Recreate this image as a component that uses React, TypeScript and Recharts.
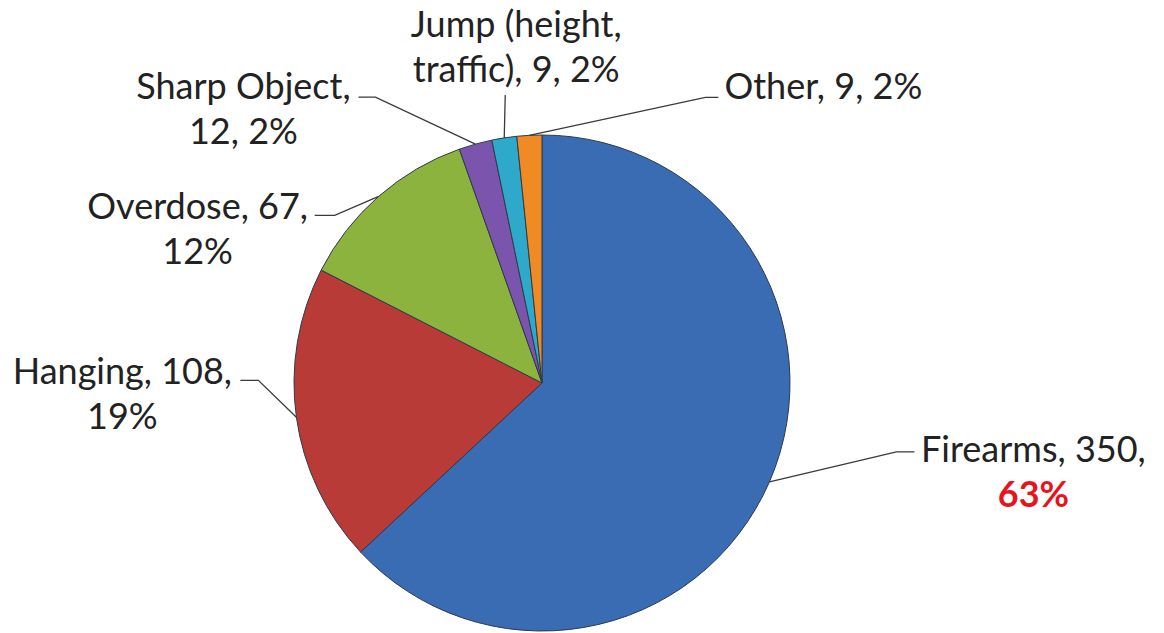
import { Cell, Pie, PieChart } from "recharts"

const categories = [
  "Firearms",
  "Hanging",
  "Overdose",
  "Sharp Object",
  "Jump (height, traffic)",
  "Other",
]
const counts = [350, 108, 67, 12, 9, 9]
const colors = ["#3a6cb3", "#b83b37", "#8db33f", "#7b55ad", "#2ea9c9", "#f08a24"]

// label placement, relative to the point where the leader meets the slice edge
const labelLayout = [
  { elbow: [127, -30], end: [145, -30], text: [264, -20], split: 2 },
  { elbow: [-38, -37], end: [-56, -37], text: [-174, -33], split: 2 },
  { elbow: [-44, 19], end: [-64, 19], text: [-181, 23], split: 2 },
  { elbow: [-100, -47], end: [-117, -47], text: [-232, -45], split: 2 },
  { elbow: [1, -43], end: [1, -43], text: [12, -101], split: 2 },
  { elbow: [176, -38], end: [189, -38], text: [294, -36], split: 99 },
]

const data = categories.map((name, i) => ({ name, value: counts[i] }))

const RADIAN = Math.PI / 180
const LINE_GAP = 45
const FONT = 36

function renderLabel(props: any) {
  const { cx, cy, midAngle, outerRadius, index, name, value, percent } = props
  const ax = cx + outerRadius * Math.cos(-midAngle * RADIAN)
  const ay = cy + outerRadius * Math.sin(-midAngle * RADIAN)
  const lay = labelLayout[index]
  const pct = `${Math.round(percent * 100)}%`
  const words = `${name}, ${value}, ${pct}`.split(" ")
  const line1 = words.slice(0, lay.split).join(" ")
  const line2 = words.slice(lay.split).join(" ")
  const tx = ax + lay.text[0]
  const ty = ay + lay.text[1]
  const highlight = index === 0
  return (
    <g>
      <polyline
        points={`${ax},${ay} ${ax + lay.elbow[0]},${ay + lay.elbow[1]} ${ax + lay.end[0]},${ay + lay.end[1]}`}
        fill="none"
        stroke="#3a3a3a"
        strokeWidth={1.3}
      />
      <text x={tx} y={ty} textAnchor="middle" fill="#222" fontSize={FONT} fontFamily="Lato">
        {line1}
      </text>
      {line2 && (
        <text
          x={tx}
          y={ty + LINE_GAP}
          textAnchor="middle"
          fill={highlight ? "#e8141c" : "#222"}
          fontWeight={highlight ? 700 : 400}
          fontSize={FONT}
          fontFamily="Lato"
        >
          {line2}
        </text>
      )}
    </g>
  )
}

export default function App() {
  return (
    <div style={{ position: "absolute", left: 0, top: 0, background: "#fff" }}>
      <PieChart width={1164} height={633} margin={{ top: 0, right: 0, bottom: 0, left: 0 }}>
        <Pie
          data={data}
          dataKey="value"
          nameKey="name"
          cx={542}
          cy={383}
          outerRadius={248}
          startAngle={90}
          endAngle={-270}
          label={renderLabel}
          labelLine={false}
          isAnimationActive={false}
          stroke="#2f3a4a"
          strokeWidth={1}
        >
          {data.map((entry, index) => (
            <Cell key={`cell-${index}`} fill={colors[index]} />
          ))}
        </Pie>
      </PieChart>
    </div>
  )
}
